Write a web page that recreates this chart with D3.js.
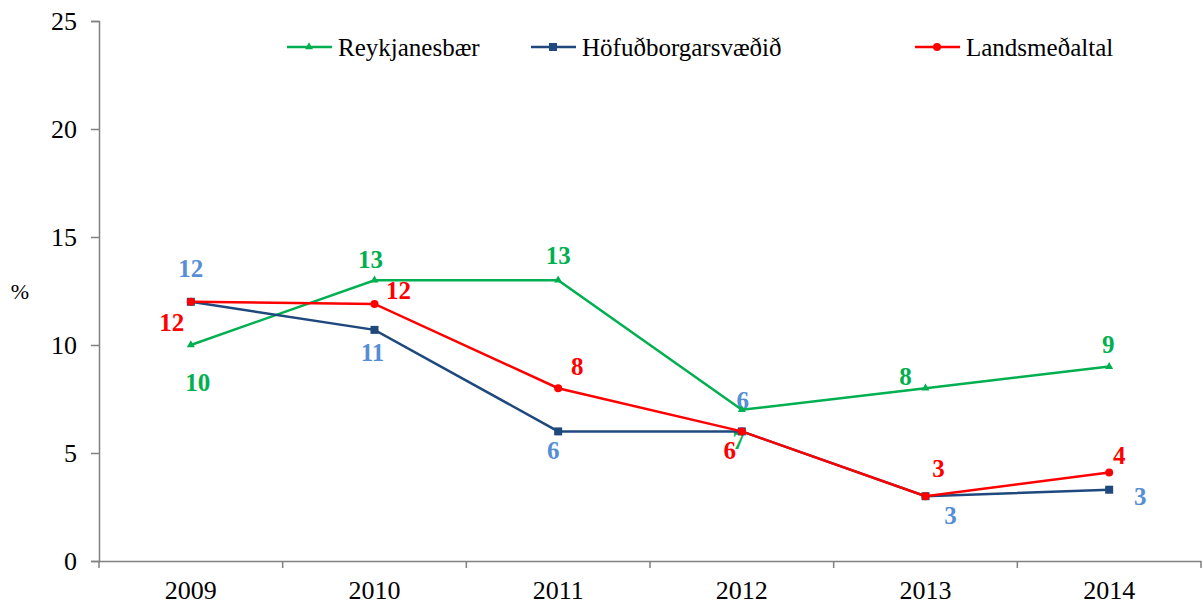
<!DOCTYPE html>
<html>
<head>
<meta charset="utf-8">
<script src="https://cdn.jsdelivr.net/npm/d3@7"></script>
<style>
  body { margin: 0; background: #fff; }
  svg, svg text { font-family: "Times New Roman", "Liberation Serif", Times, "DejaVu Serif", serif !important; }
</style>
</head>
<body>
<div id="chart"></div>
<script>
// data
var years = ["2009", "2010", "2011", "2012", "2013", "2014"];
var reykjanesbaer = [10, 13, 13, 7, 8, 9];
var hofudborg = [12, 10.7, 6, 6, 3, 3.3];
var landsmedaltal = [12, 11.9, 8, 6, 3, 4.1];
var yTicks = [0, 5, 10, 15, 20, 25];

// label offsets from each point (dx, dy)
var greenOffsets = [[7, 37], [-4, -21], [0, -25], [-3, 30], [-20, -12], [-1, -22]];
var navyOffsets = [[0, -34], [-2, 22], [-5, 19], [1, -31], [25, 19], [31, 7]];
var redOffsets = [[-19, 20], [24, -14], [19, -22], [-12, 19], [13, -28], [10, -17]];

var width = 1203,
	height = 605;

var series = [
	{name: "Reykjanesbær", values: reykjanesbaer, color: "#00B050", labelColor: "#00B050", marker: "triangle", offsets: greenOffsets, lx: 287},
	{name: "Höfuðborgarsvæðið", values: hofudborg, color: "#1F497D", labelColor: "#558ED5", marker: "square", offsets: navyOffsets, lx: 531},
	{name: "Landsmeðaltal", values: landsmedaltal, color: "#FF0000", labelColor: "#FF0000", marker: "circle", offsets: redOffsets, lx: 915}
];

var svg = d3.select("#chart").append("svg")
	.attr("width", width)
	.attr("height", height);

var x = d3.scaleBand().domain(years).range([99, 1201]);
var y = d3.scaleLinear().domain([0, 25]).range([561, 21]);

var axisColor = "#808080";

// y axis
var yAxis = svg.append("g")
	.attr("transform", "translate(99,0)")
	.call(d3.axisLeft(y).tickValues(yTicks).tickSize(8).tickPadding(14));
yAxis.attr("font-family", null);
yAxis.select(".domain").attr("stroke", axisColor).attr("stroke-width", 1.5);
yAxis.selectAll(".tick line").attr("stroke", axisColor).attr("stroke-width", 1.5);
yAxis.selectAll(".tick text")
	.attr("font-size", 26)
	.attr("fill", "#000");

// x axis
var xAxis = svg.append("g")
	.attr("transform", "translate(0,561)")
	.call(d3.axisBottom(x).tickSize(0).tickPadding(20));
xAxis.attr("font-family", null);
xAxis.select(".domain").attr("stroke", axisColor).attr("stroke-width", 1.5);
xAxis.selectAll(".tick text")
	.attr("font-size", 26)
	.attr("fill", "#000");

// ticks between categories
var bounds = years.map(function(d) { return x(d); }).concat([x.range()[1]]);
xAxis.selectAll(".bound")
	.data(bounds).enter()
	.append("line")
	.attr("class", "bound")
	.attr("x1", function(d) { return d; })
	.attr("x2", function(d) { return d; })
	.attr("y1", 0)
	.attr("y2", 7)
	.attr("stroke", axisColor)
	.attr("stroke-width", 1.5);

// % label
svg.append("text")
	.attr("x", 20)
	.attr("y", 299)
	.attr("text-anchor", "middle")
	.attr("font-size", 22)
	.text("%");

var cx = function(i) { return x(years[i]) + x.bandwidth() / 2; };

// value labels (drawn first so the lines go over them)
series.forEach(function(s) {
	svg.append("g").selectAll("text")
		.data(s.values).enter()
		.append("text")
		.attr("x", function(d, i) { return cx(i) + s.offsets[i][0]; })
		.attr("y", function(d, i) { return y(d) + s.offsets[i][1]; })
		.attr("dy", "0.35em")
		.attr("text-anchor", "middle")
		.attr("font-size", 25)
		.attr("font-weight", "bold")
		.attr("fill", s.labelColor)
		.text(function(d) { return Math.round(d); });
});

function drawMarker(g, type, color, px, py) {
	if (type == "triangle") {
		g.append("path")
			.attr("d", d3.symbol().type(d3.symbolTriangle).size(28))
			.attr("transform", "translate(" + px + "," + py + ")")
			.attr("fill", color);
	} else if (type == "square") {
		g.append("rect")
			.attr("x", px - 4).attr("y", py - 4)
			.attr("width", 8).attr("height", 8)
			.attr("fill", color);
	} else {
		g.append("circle")
			.attr("cx", px).attr("cy", py).attr("r", 4)
			.attr("fill", color);
	}
}

var line = d3.line()
	.x(function(d, i) { return cx(i); })
	.y(function(d) { return y(d); });

series.forEach(function(s) {
	var g = svg.append("g");
	g.append("path")
		.datum(s.values)
		.attr("d", line)
		.attr("fill", "none")
		.attr("stroke", s.color)
		.attr("stroke-width", 2.5);
	s.values.forEach(function(d, i) {
		drawMarker(g, s.marker, s.color, cx(i), y(d));
	});
});

// legend
series.forEach(function(s) {
	var g = svg.append("g");
	g.append("line")
		.attr("x1", s.lx).attr("x2", s.lx + 45)
		.attr("y1", 47).attr("y2", 47)
		.attr("stroke", s.color)
		.attr("stroke-width", 2.5);
	drawMarker(g, s.marker, s.color, s.lx + 22, 47);
	g.append("text")
		.attr("x", s.lx + 51)
		.attr("y", 56)
		.attr("font-size", 25)
		.attr("fill", "#000")
		.text(s.name);
});
</script>
</body>
</html>
